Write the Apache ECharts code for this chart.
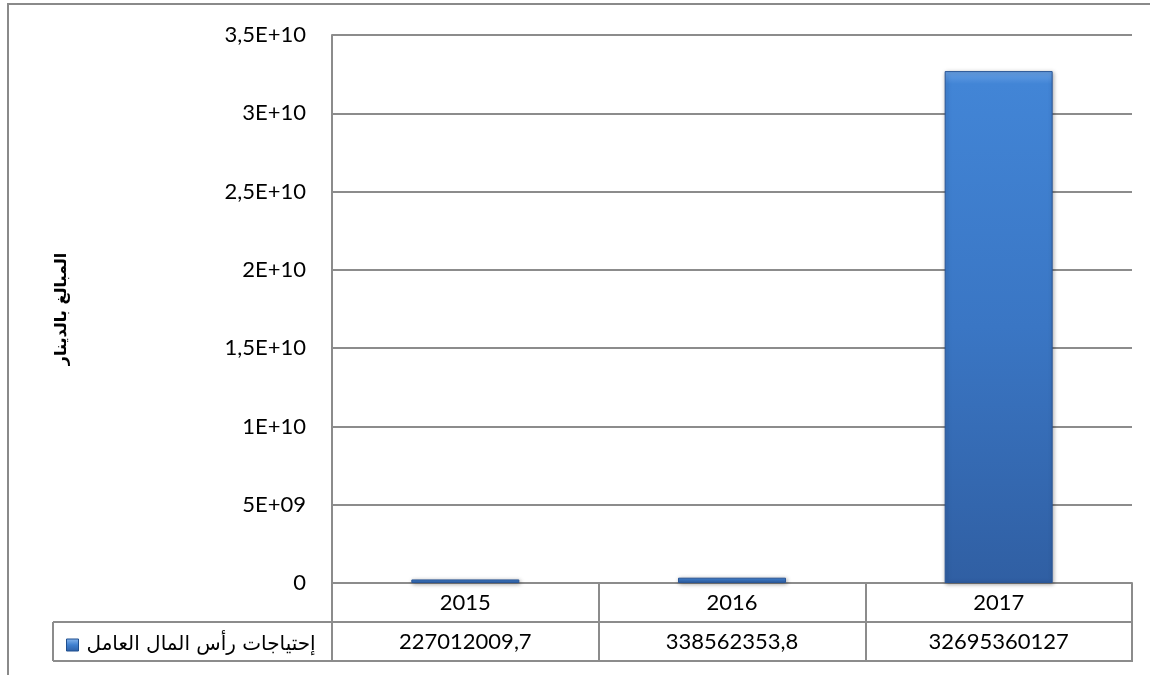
<!DOCTYPE html>
<html>
<head>
<meta charset="utf-8">
<script src="https://cdn.jsdelivr.net/npm/echarts@6/dist/echarts.min.js"></script>
<style>
html,body{margin:0;padding:0;background:#fff;}
#c{width:1150px;height:675px;}
</style>
</head>
<body>
<div id="c"></div>
<script>
const categories = ['2015', '2016', '2017'];
const seriesName = 'إحتياجات رأس المال العامل';
const values = [227012009.7, 338562353.8, 32695360127];
const yAxisTitle = 'المبالغ بالدينار';
const yMin = 0, yMax = 3.5e10, yStep = 5e9;

function sci(v) {
  if (v === 0) return '0';
  const e = Math.floor(Math.log10(v) + 1e-9);
  const m = v / Math.pow(10, e);
  return String(+m.toFixed(1)).replace('.', ',') + 'E+' + String(e).padStart(2, '0');
}
function fmtVal(v) { return String(v).replace('.', ','); }

const G = { left: 332, right: 1132, top: 35, bottom: 583, row: 39, legendLeft: 53 };
const lineColor = '#8c8c8c';
const font = 'Lato, "Open Sans", sans-serif';

const chart = echarts.init(document.getElementById('c'));
chart.setOption({
  animation: false,
  backgroundColor: '#fff',
  grid: { left: G.left, right: 1150 - G.right, top: G.top, bottom: 675 - G.bottom },
  legend: {
    show: true,
    left: 61, top: 630,
    icon: 'rect', itemWidth: 12, itemHeight: 12, itemGap: 4,
    textStyle: { fontFamily: '"DejaVu Sans", Arial, sans-serif', fontSize: 20, color: '#000', padding: [0, 0, 0, 3] },
    data: [{ name: seriesName, itemStyle: { color: new echarts.graphic.LinearGradient(0,0,0,1,[{offset:0,color:'#8ab8ee'},{offset:0.5,color:'#3f7fcf'},{offset:1,color:'#2d5fa6'}]), borderColor: '#1f4f8f', borderWidth: 1 } }]
  },
  xAxis: [
    {
      type: 'category', data: categories, position: 'bottom',
      axisLine: { show: true, lineStyle: { color: lineColor, width: 2 } },
      axisTick: { show: true, length: G.row, lineStyle: { color: lineColor, width: 2 } },
      axisLabel: { margin: 9, fontFamily: font, fontSize: 22, color: '#000' }
    },
    {
      type: 'category', data: values.map(fmtVal), position: 'bottom', offset: G.row,
      axisLine: { show: true, lineStyle: { color: lineColor, width: 2 } },
      axisTick: { show: true, length: G.row, lineStyle: { color: lineColor, width: 2 } },
      axisLabel: { margin: 9, fontFamily: font, fontSize: 22, color: '#000' }
    }
  ],
  yAxis: {
    type: 'value', min: yMin, max: yMax, interval: yStep,
    name: yAxisTitle, nameLocation: 'middle', nameRotate: 90, nameGap: 262,
    nameTextStyle: { fontFamily: '"DejaVu Sans", Arial, sans-serif', fontSize: 16, fontWeight: 'bold', color: '#000' },
    axisLine: { show: true, lineStyle: { color: lineColor, width: 2 } },
    axisTick: { show: false },
    splitLine: { show: true, lineStyle: { color: lineColor, width: 2 } },
    axisLabel: { margin: 26, fontFamily: font, fontSize: 22, color: '#000', formatter: sci }
  },
  series: [{
    type: 'bar', name: seriesName, data: values, barWidth: 108,
    itemStyle: {
      color: new echarts.graphic.LinearGradient(0, 0, 0, 1, [
        { offset: 0, color: '#6aa2e6' },
        { offset: 0.025, color: '#4285d6' },
        { offset: 0.5, color: '#3a76c4' },
        { offset: 1, color: '#305fa3' }
      ]),
      borderColor: '#2a5696', borderWidth: 1,
      shadowColor: 'rgba(0,0,0,0.35)', shadowBlur: 4, shadowOffsetX: 1, shadowOffsetY: 1
    }
  }],
  graphic: [
    { type: 'rect', shape: { x: 8, y: 4, width: 1200, height: 800 }, style: { fill: 'none', stroke: '#8a8a8a', lineWidth: 2 }, silent: true, z: 0 },
    { type: 'line', shape: { x1: G.legendLeft, y1: G.bottom + G.row, x2: G.left, y2: G.bottom + G.row }, style: { stroke: lineColor, lineWidth: 2 }, z: 10 },
    { type: 'line', shape: { x1: G.legendLeft, y1: G.bottom + 2 * G.row, x2: G.right + 1, y2: G.bottom + 2 * G.row }, style: { stroke: lineColor, lineWidth: 2 }, z: 10 },
    { type: 'line', shape: { x1: G.legendLeft, y1: G.bottom + G.row, x2: G.legendLeft, y2: G.bottom + 2 * G.row }, style: { stroke: lineColor, lineWidth: 2 }, z: 10 }
  ]
});
</script>
</body>
</html>
